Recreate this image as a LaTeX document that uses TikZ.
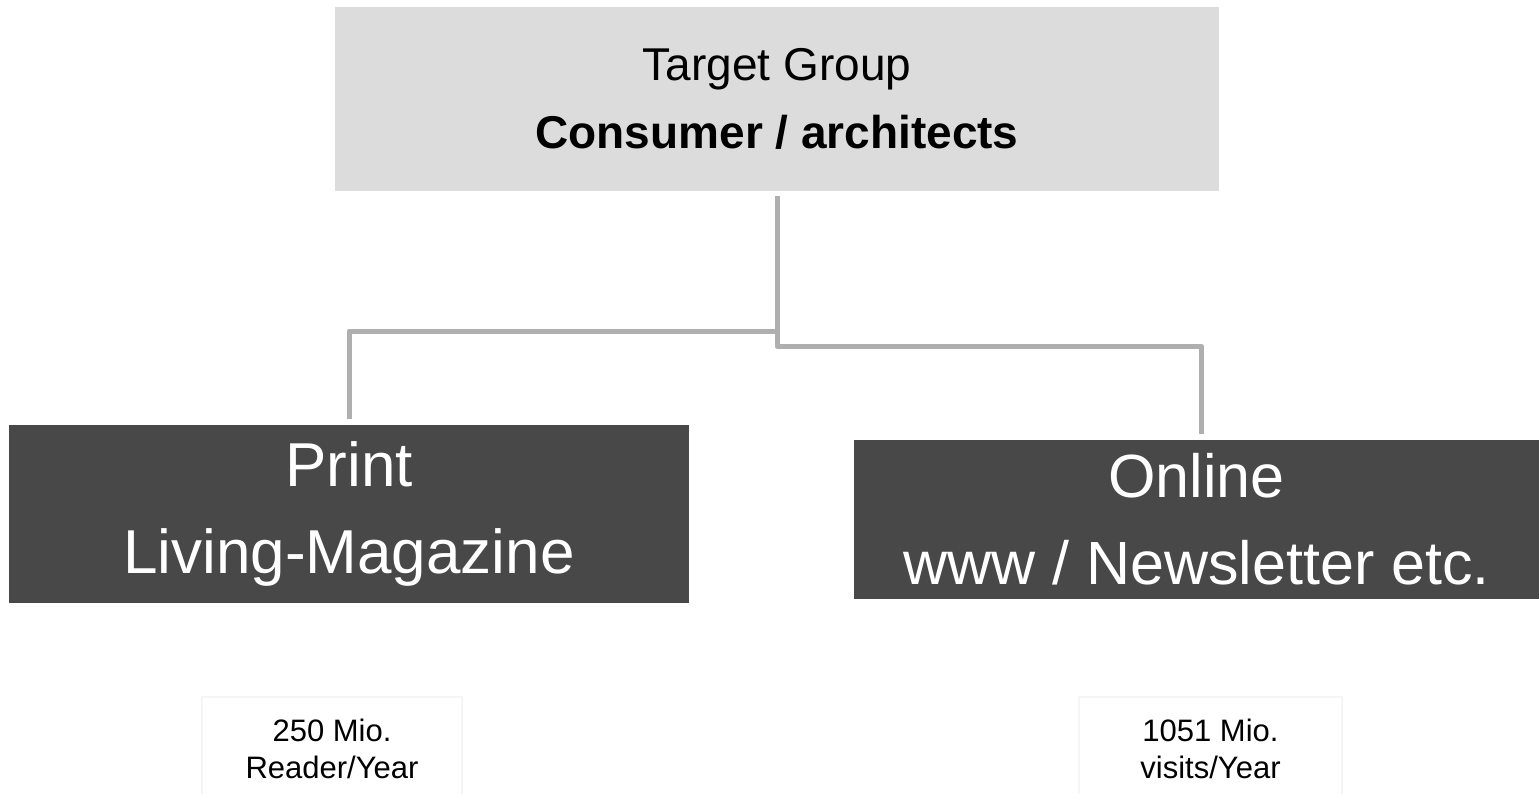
\documentclass[tikz,border=0pt]{standalone}
\usepackage{fontspec}
\setmainfont{Liberation Sans}
\definecolor{topgray}{HTML}{DCDCDC}
\definecolor{darkbox}{HTML}{484848}
\definecolor{linegray}{HTML}{AFAFAF}
\definecolor{faint}{HTML}{F5F5F5}
\tikzset{
  topbox/.style={rectangle, fill=topgray, draw=none, inner sep=0pt, align=center, text=black},
  mediabox/.style={rectangle, fill=darkbox, draw=none, inner sep=0pt, align=center, text=white},
  statbox/.style={rectangle, fill=white, draw=faint, line width=1.5pt, inner sep=0pt},
  stattext/.style={align=center, inner sep=0pt, text=black, font=\fontsize{31}{37}\selectfont},
  conn/.style={draw=linegray, line width=5pt, line join=round}
}
\begin{document}
\begin{tikzpicture}[x=1pt,y=-1pt]
\clip (0,0) rectangle (1539,793);
\fill[white] (0,0) rectangle (1539,793);

\node[topbox, minimum width=884pt, minimum height=184pt, font=\fontsize{46}{68}\selectfont] (top) at (777,99)
  {Target Group\\ \textbf{Consumer / architects}};

\node[mediabox, minimum width=680pt, minimum height=178pt, font=\fontsize{62}{87}\selectfont] (print) at (349,514)
  {Print\\ Living-Magazine};

\node[mediabox, minimum width=685pt, minimum height=159pt, font=\fontsize{61}{87}\selectfont] (online) at (1196.5,519.5)
  {Online\\ www / Newsletter etc.};

\node[statbox, minimum width=260pt, minimum height=200pt] (s1) at (332,797) {};
\node[statbox, minimum width=263pt, minimum height=200pt] (s2) at (1210.5,797) {};
\node[stattext] (t1) at (332,749) {250 Mio.\\ Reader/Year};
\node[stattext] (t2) at (1210.5,749) {1051 Mio.\\ visits/Year};

\coordinate (j1) at (777,331);
\coordinate (j2) at (777,346);
\draw[conn] ([yshift=-5pt]top.south) -- (j1) -| ([yshift=6pt]print.north);
\draw[conn] (j1) -- (j2) -| ([xshift=4.5pt,yshift=6pt]online.north);
\end{tikzpicture}
\end{document}
